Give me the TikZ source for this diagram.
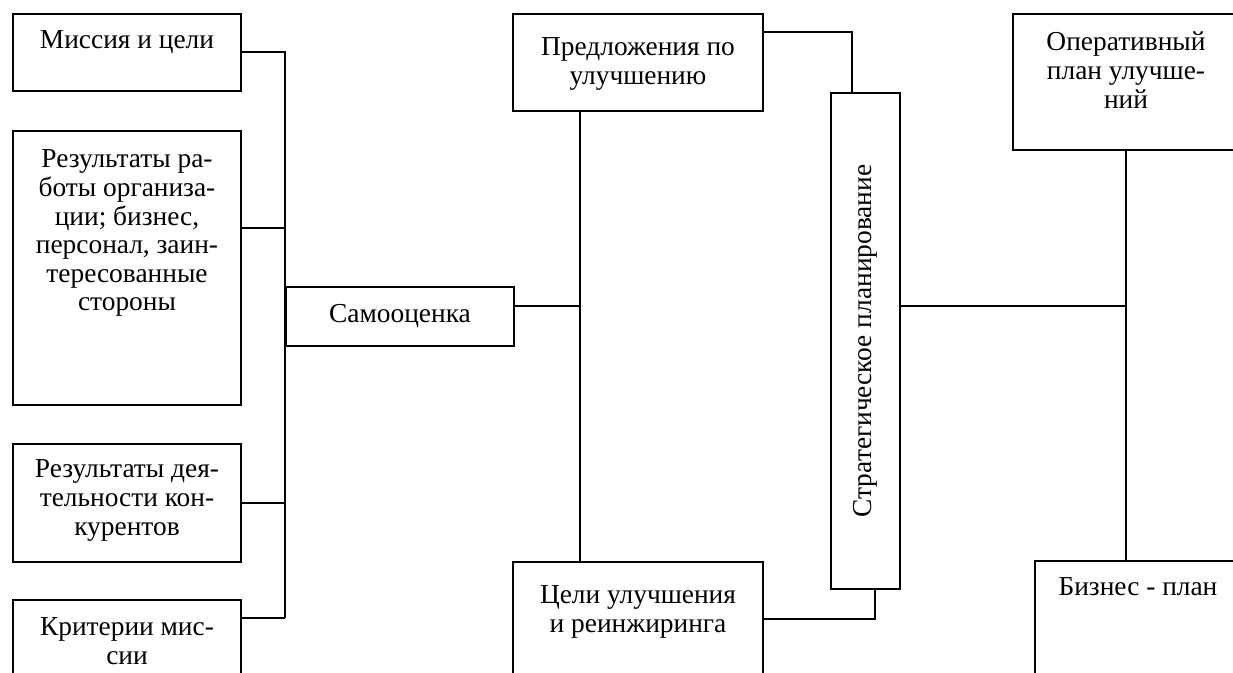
\documentclass[tikz,border=0pt]{standalone}
\usepackage{fontspec}
\setmainfont{Liberation Serif}
\usepackage{graphicx}

% box text set from the top: width, height, first baseline, text
\newcommand{\topbox}[4]{\parbox[c][#2][t]{#1}{\centering\rule{0pt}{#3}#4}}

\begin{document}
\begin{tikzpicture}[
    x=0.5pt, y=-0.5pt,
    box/.style={draw, line width=1pt, inner sep=0pt, anchor=north west,
        font=\fontsize{13.7}{14.3}\selectfont},
    link/.style={draw, line width=1pt}
]
\useasboundingbox (0,0) rectangle (1233,673);
\clip (0,0) rectangle (1233,673);

% Inputs
\node[box] (mis) at (12,13) {\topbox{114pt}{38.5pt}{17.5pt}{Миссия и цели}};
\node[box] (res) at (12,130) {\topbox{114pt}{137pt}{18.5pt}{Результаты ра-\\боты организа-\\ции; бизнес,\\персонал, заин-\\тересованные\\стороны}};
\node[box] (conc) at (12,443) {\topbox{114pt}{59pt}{17pt}{Результаты дея-\\тельности кон-\\курентов}};
\node[box] (crit) at (12,599) {\topbox{114pt}{60pt}{18pt}{Критерии мис-\\сии}};

% Self-assessment
\node[box, minimum width=114pt, minimum height=29.5pt] (samo) at (285,286) {Самооценка};

% Improvement
\node[box] (pred) at (512,13) {\topbox{125pt}{48.5pt}{21pt}{Предложения по\\улучшению}};
\node[box] (goals) at (512,561) {\topbox{125pt}{60pt}{21pt}{Цели улучшения\\и реинжиринга}};

% Strategic planning
\node[box, minimum width=34.5pt, minimum height=248pt] (strat) at (830,92) {\rotatebox{90}{Стратегическое планирование}};

% Plans
\node[box] (oper) at (1012,13) {\topbox{113pt}{68pt}{18.5pt}{Оперативный\\план улучше-\\ний}};
\node[box] (biz) at (1034,560) {\topbox{103pt}{60pt}{17.5pt}{Бизнес - план}};

% Junctions
\coordinate (resOut) at (240,228);
\coordinate (critOut) at (240,618);
\coordinate (lbus) at (285,618);
\coordinate (samoOut) at (513,306);
\coordinate (mbus) at (580,110);
\coordinate (predOut) at (762,32);
\coordinate (stratIn) at (852,92);
\coordinate (stratOut) at (875,588);
\coordinate (goalsIn) at (762,619);
\coordinate (stratE) at (899,306);

% Connectors
\draw[link] (mis.east) -| (lbus);
\draw[link] (resOut) -- (resOut -| lbus);
\draw[link] (conc.east) -- (conc.east -| lbus);
\draw[link] (critOut) -- (lbus);
\draw[link] (samoOut) -- (samoOut -| mbus);
\draw[link] (mbus) -- (mbus |- goals.north);
\draw[link] (predOut) -| (stratIn);
\draw[link] (stratOut) |- (goalsIn);
\draw[link] (stratE) -- (stratE -| oper.south);
\draw[link] (oper.south) -- (oper.south |- biz.north);

\end{tikzpicture}
\end{document}
